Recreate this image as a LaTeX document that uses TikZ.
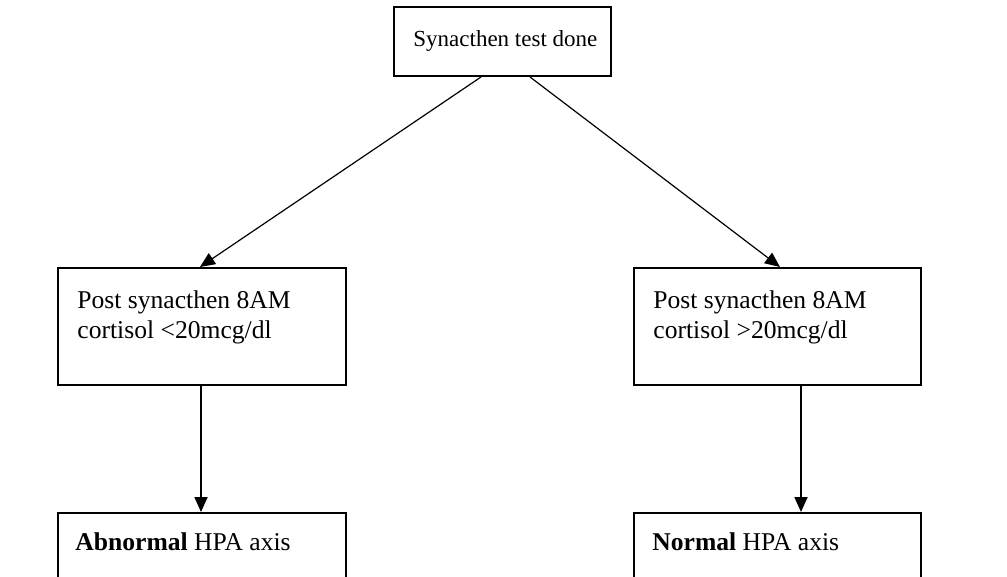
\documentclass[tikz,border=0pt]{standalone}
\usepackage{fontspec}
\setmainfont{Liberation Serif}
\usetikzlibrary{arrows.meta}
\begin{document}
\begin{tikzpicture}[x=0.5pt,y=-0.5pt,
  box/.style={draw, line width=1pt, rectangle, inner sep=0pt, anchor=north west},
  lbl/.style={anchor=base west, inner sep=0pt, font=\fontsize{12.8}{15}\selectfont},
  arr/.style={-{Triangle[length=7.5pt,width=6.5pt]}, line width=0.6pt},
  varr/.style={arr, line width=0.9pt}]
\clip (0,0) rectangle (1007,577);
\fill[white] (0,0) rectangle (1007,577);
% boxes
\node[box, minimum width=108.5pt, minimum height=34.5pt] (top) at (393,6) {};
\node[box, minimum width=144pt, minimum height=58.5pt] (l1) at (57,267) {};
\node[box, minimum width=143.5pt, minimum height=58.5pt] (r1) at (633,267) {};
\node[box, minimum width=144pt, minimum height=50pt] (l2) at (57,512) {};
\node[box, minimum width=143.5pt, minimum height=50pt] (r2) at (633,512) {};
% texts
\node[lbl, font=\fontsize{11.5}{13.5}\selectfont] (ttop) at (413,47) {Synacthen test done};
\node[lbl] (tl1a) at (77,309) {Post synacthen 8AM};
\node[lbl] (tl1b) at (77,339) {cortisol <20mcg/dl};
\node[lbl] (tr1a) at (653,309) {Post synacthen 8AM};
\node[lbl] (tr1b) at (653,339) {cortisol >20mcg/dl};
\node[lbl] (tl2) at (75,550) {\textbf{Abnormal} HPA axis};
\node[lbl] (tr2) at (652,550) {\textbf{Normal} HPA axis};
% connectors
\draw[arr] ([xshift=44pt]top.south west) -- ([xshift=71.5pt]l1.north west);
\draw[arr] ([xshift=68.5pt]top.south west) -- ([xshift=73.5pt]r1.north west);
\draw[varr] ([xshift=72pt]l1.south west) -- ([xshift=72pt]l2.north west);
\draw[varr] ([xshift=84pt]r1.south west) -- ([xshift=84pt]r2.north west);
\end{tikzpicture}
\end{document}
